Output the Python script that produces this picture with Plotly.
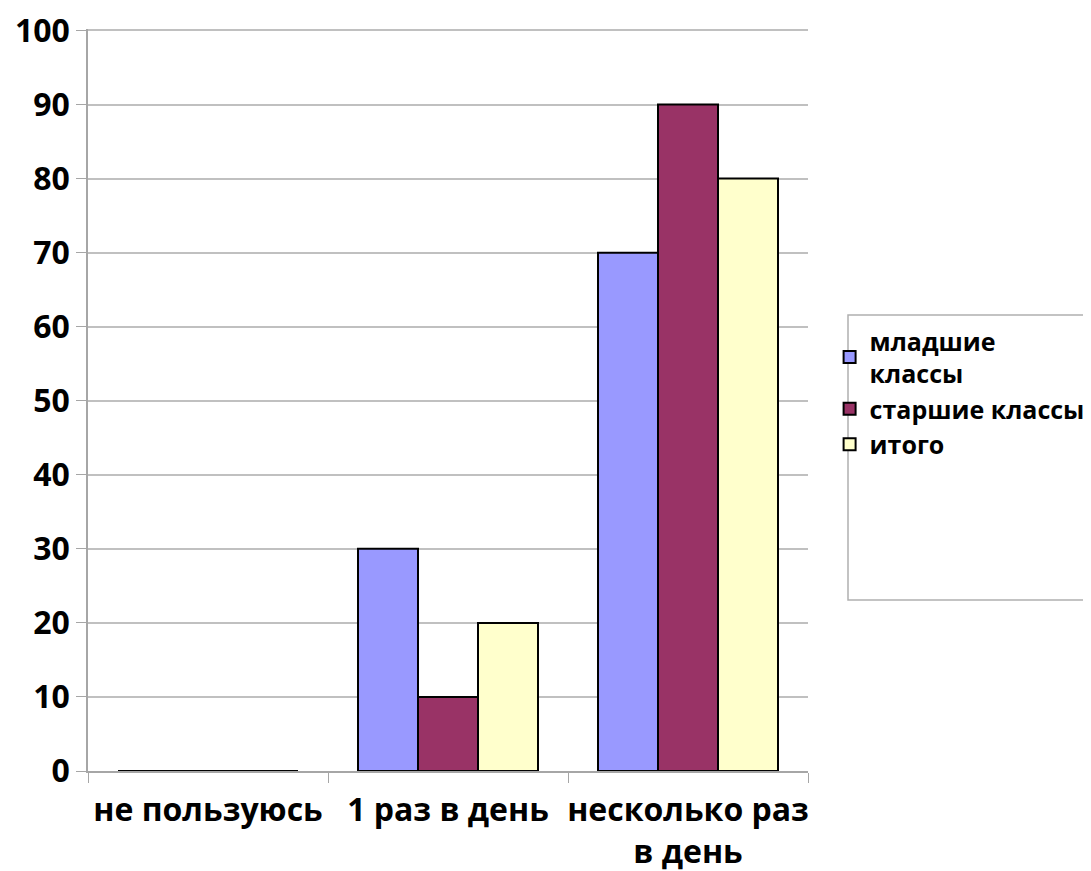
import plotly.graph_objects as go

categories = ["не пользуюсь", "1 раз в день", "несколько раз<br>в день"]
series_names = ["младшие<br>классы", "старшие классы", "итого"]
junior = [0, 30, 70]
senior = [0, 10, 90]
total = [0, 20, 80]
colors = ["#9999FF", "#993366", "#FFFFCC"]
y_ticks = [0, 10, 20, 30, 40, 50, 60, 70, 80, 90, 100]

fig = go.Figure()
for name, vals, col in zip(series_names, [junior, senior, total], colors):
    fig.add_trace(go.Bar(
        x=categories, y=vals, name=name,
        marker=dict(color=col, line=dict(color="#000000", width=2)),
    ))

font_main = dict(family="Open Sans", size=32, color="#000000", weight="bold")

top_m, bot_m = 21, 108
plot_h = 871 - top_m - bot_m
plot_top_page = top_m + 8

def py(page_y):
    return (plot_top_page + plot_h - page_y) / plot_h

fig.update_layout(
    width=1091, height=871,
    margin=dict(l=80, r=291, t=top_m, b=bot_m, autoexpand=False),
    paper_bgcolor="white", plot_bgcolor="white",
    barmode="group", bargap=0.25, bargroupgap=0,
    showlegend=True,
    legend=dict(
        x=1.03, y=py(318), xanchor="left", yanchor="top",
        font=dict(family="Open Sans", size=25, color="#000000", weight="bold"),
        bgcolor="rgba(0,0,0,0)", borderwidth=0,
        tracegroupgap=4, itemwidth=30,
    ),
    xaxis=dict(
        tickfont=font_main, tickangle=0, showline=True, linecolor="#a6a6a6", linewidth=1.5,
        ticks="outside", tickson="boundaries", ticklen=10, tickcolor="#a6a6a6",
        showgrid=False, zeroline=False, automargin=False, ticklabelstandoff=10,
    ),
    yaxis=dict(
        range=[0, 100.2], tickvals=y_ticks, tickfont=font_main,
        showline=True, linecolor="#a6a6a6", linewidth=1.5,
        ticks="outside", ticklen=10, tickcolor="#a6a6a6",
        showgrid=True, gridcolor="#c0c0c0", gridwidth=1.5, zeroline=False,
        automargin=False, ticklabeloverflow="allow",
    ),
    shapes=[dict(type="rect", xref="paper", yref="paper",
                 x0=(848 - 88) / 720, x1=(1100 - 88) / 720,
                 y0=py(600), y1=py(315),
                 line=dict(color="#b0b0b0", width=1.5), fillcolor="rgba(0,0,0,0)")],
)

fig.write_html("out.html")
